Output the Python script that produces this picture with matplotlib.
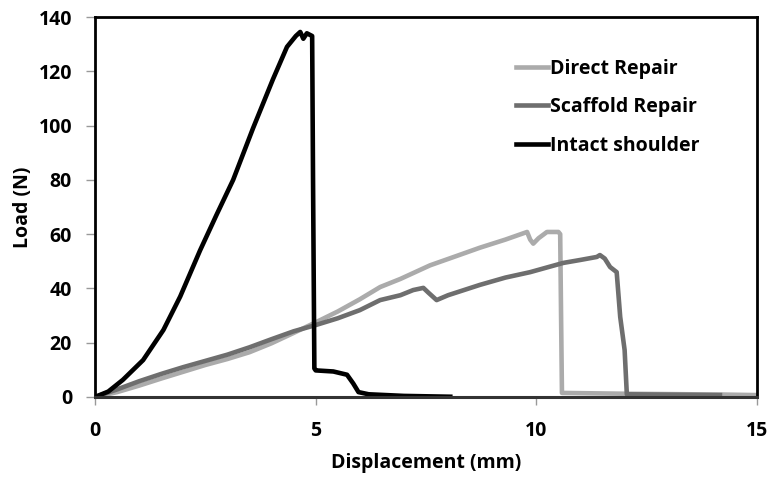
import matplotlib
matplotlib.use("Agg")
import matplotlib.pyplot as plt

plt.rcParams["font.family"] = ["Open Sans", "DejaVu Sans"]
plt.rcParams["font.weight"] = "bold"

# Direct Repair
direct_x = [0, 0.5, 1.0, 1.5, 2.0, 2.5, 3.0, 3.5, 4.0, 4.5, 5.0, 5.5, 6.0, 6.46,
            6.92, 7.59, 8.2, 8.72, 9.3, 9.79, 9.86, 9.93, 10.05, 10.24, 10.5,
            10.54, 10.56, 10.58, 12.0, 14.2, 15.0]
direct_y = [0, 1.8, 4.2, 6.8, 9.3, 11.8, 14.0, 16.5, 19.8, 23.6, 27.5, 31.5, 36.0,
            40.5, 43.5, 48.5, 52.0, 55.0, 58.0, 60.8, 58.0, 56.5, 58.5, 60.8,
            60.8, 60.0, 30.0, 1.5, 1.2, 0.9, 0.7]

# Scaffold Repair
scaffold_x = [0, 0.5, 1.0, 1.5, 2.0, 2.5, 3.0, 3.5, 4.0, 4.5, 5.0, 5.5, 6.0, 6.46,
              6.92, 7.21, 7.44, 7.55, 7.74, 8.0, 8.72, 9.3, 9.86, 10.61, 11.0,
              11.37, 11.44, 11.55, 11.67, 11.82, 11.9, 12.0, 12.05, 14.16]
scaffold_y = [0, 2.8, 5.8, 8.5, 11.0, 13.3, 15.6, 18.3, 21.3, 24.2, 26.5, 29.0,
              32.0, 35.7, 37.5, 39.4, 40.2, 38.5, 35.7, 37.5, 41.3, 44.0, 46.0,
              49.4, 50.5, 51.6, 52.3, 51.0, 47.9, 46.0, 29.5, 17.3, 1.0, 0.7]

# Intact shoulder
intact_x = [0, 0.3, 0.63, 1.09, 1.55, 1.93, 2.38, 2.75, 3.13, 3.58, 4.03, 4.35,
            4.55, 4.65, 4.72, 4.80, 4.92, 4.94, 4.97, 5.0, 5.4, 5.71, 5.85, 5.97,
            6.2, 7.0, 8.05]
intact_y = [0, 2.0, 6.3, 13.6, 24.7, 37.0, 54.0, 67.0, 80.0, 99.0, 117.0, 129.0,
            133.0, 134.5, 132.0, 134.0, 133.0, 80.0, 10.5, 9.8, 9.4, 8.2, 5.0,
            1.8, 1.0, 0.4, 0.1]

fig = plt.figure(figsize=(7.75, 4.79), dpi=100)
ax = fig.add_axes([0.1226, 0.1712, 0.8542, 0.7933])

ax.plot(direct_x, direct_y, color="#ababab", lw=3.3, label="Direct Repair")
ax.plot(scaffold_x, scaffold_y, color="#6e6e6e", lw=3.3, label="Scaffold Repair")
ax.plot(intact_x, intact_y, color="black", lw=3.3, label="Intact shoulder")

ax.set_xlim(0, 15)
ax.set_ylim(0, 140)
ax.set_xticks([0, 5, 10, 15])
ax.set_yticks(range(0, 141, 20))
ax.tick_params(labelsize=14, color="#999999", width=1)
ax.tick_params(axis="y", length=6.5, pad=10)
ax.tick_params(axis="x", length=6, pad=11)
for lab in ax.get_xticklabels() + ax.get_yticklabels():
    lab.set_fontweight("bold")

for side in ["left", "top", "right"]:
    ax.spines[side].set_linewidth(2)
    ax.spines[side].set_color("black")
ax.spines["bottom"].set_linewidth(2.2)
ax.spines["bottom"].set_color("#333333")

ax.set_xlabel("Displacement (mm)", fontsize=14, fontweight="bold", labelpad=9)
ax.set_ylabel("Load (N)", fontsize=14, fontweight="bold", labelpad=4)

leg = ax.legend(loc="upper left", bbox_to_anchor=(0.636, 0.89), frameon=False,
                fontsize=14, handlelength=1.65, handletextpad=0.1,
                labelspacing=0.95, borderpad=0, borderaxespad=0)
for t in leg.get_texts():
    t.set_fontweight("bold")

fig.savefig("out.png", dpi=100)
